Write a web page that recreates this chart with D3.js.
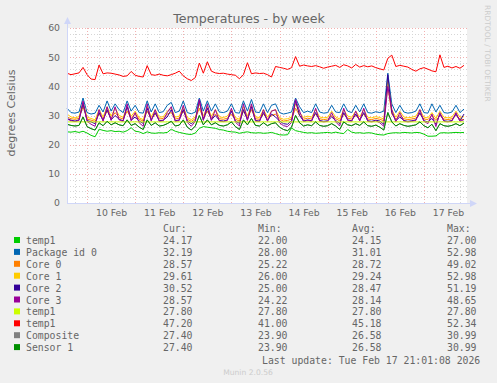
<html>
<head>
<meta charset="utf-8">
<title>Temperatures - by week</title>
<script src="https://d3js.org/d3.v7.min.js"></script>
<style>
  body { margin: 0; background: #f0f0f0; }
  text { font-family: "DejaVu Sans"; fill: #666666; }
  .mono { font-family: "DejaVu Sans Mono"; font-size: 9.8px; }
</style>
</head>
<body>
<svg id="grafico" width="497" height="383"></svg>
<script>
// series names / colours (munin order)
let names = ["temp1", "Package id 0", "Core 0", "Core 1", "Core 2", "Core 3", "temp1", "temp1", "Composite", "Sensor 1"];
let colors = ["#00CC00", "#0066B3", "#FF8000", "#FFCC00", "#330099", "#990099", "#CCFF00", "#FF0000", "#808080", "#008F00"];
let curVals = [24.17, 32.19, 28.57, 29.61, 30.52, 28.57, 27.80, 47.20, 27.40, 27.40];
let minVals = [22.00, 28.00, 25.22, 26.00, 25.00, 24.22, 27.80, 41.00, 23.90, 23.90];
let avgVals = [24.15, 31.01, 28.72, 29.24, 28.47, 28.14, 27.80, 45.18, 26.58, 26.58];
let maxVals = [27.00, 52.98, 49.02, 52.98, 51.19, 48.65, 27.80, 52.34, 30.99, 30.99];

let yTicks = [0, 10, 20, 30, 40, 50, 60];
let dayLabels = ["10 Feb", "11 Feb", "12 Feb", "13 Feb", "14 Feb", "15 Feb", "16 Feb", "17 Feb"];

// samples every 2h, from Feb 9 14:00 to Feb 17 20:00
let temp1 = [24.4,24.3,24.5,24.2,24.6,24.0,23.2,22.7,25.3,24.9,24.6,24.8,24.5,24.6,24.3,24.8,25.8,24.6,24.4,23.8,
  24.4,24.0,23.9,24.1,24.0,24.2,25.3,24.6,24.2,23.9,23.6,23.5,24.0,25.6,26.2,26.0,25.8,25.6,25.2,25.0,
  24.6,24.4,24.3,23.9,24.2,24.4,24.1,24.0,24.1,23.9,24.0,24.2,23.8,23.4,23.3,23.4,25.7,24.8,24.5,24.2,
  24.0,24.1,23.9,24.0,24.1,24.2,24.0,24.3,24.0,23.8,25.2,24.3,24.0,24.1,23.9,24.1,24.0,23.6,23.4,23.3,
  23.8,24.0,24.1,24.0,24.2,24.1,24.0,24.2,24.1,23.6,22.9,22.9,23.0,24.0,24.1,24.0,24.1,24.2,24.1,24.2];
let package0 = [32.5,31.0,30.8,31.2,36.0,31.0,30.5,30.8,33.5,31.2,35.0,31.5,34.0,32.0,31.0,35.0,31.5,33.5,31.0,30.8,
  35.0,31.2,34.0,31.0,31.3,33.5,34.5,31.0,31.5,35.0,31.0,30.6,31.2,36.0,31.5,35.0,31.5,34.0,31.2,31.0,
  31.5,34.0,31.0,30.8,35.0,31.5,35.5,31.2,31.0,34.0,31.0,33.5,34.0,31.0,30.5,30.8,31.2,36.0,33.0,31.0,
  31.5,31.0,34.0,31.2,30.8,31.0,33.5,31.2,31.0,34.0,31.5,31.0,33.5,31.2,34.0,31.0,30.8,31.3,31.0,31.5,
  44.5,34.0,31.0,33.5,31.2,30.8,31.0,31.5,34.0,31.0,30.8,34.0,31.2,33.5,31.0,30.8,31.2,33.5,31.0,32.2];
let core0 = [29.5,28.9,28.7,29.0,33.0,28.8,28.4,28.0,30.5,28.9,31.5,29.1,31.0,29.3,28.8,31.5,29.0,30.5,28.7,28.1,
  31.5,29.0,30.5,28.8,29.0,30.5,31.0,28.8,29.1,31.5,28.7,28.0,28.9,32.5,29.1,31.5,29.1,30.5,28.9,28.7,
  29.1,30.5,28.7,28.1,31.5,29.1,32.0,28.9,28.7,30.5,28.8,30.0,30.5,28.7,28.1,28.3,28.8,32.5,30.0,28.7,
  29.1,28.8,30.5,28.9,28.6,28.8,30.0,28.9,28.2,30.5,29.1,28.8,30.0,28.9,30.5,28.8,28.6,29.0,28.7,28.2,
  40.0,30.5,28.8,30.0,28.9,28.6,28.8,29.1,30.5,28.8,28.6,30.0,28.3,30.0,28.8,28.6,28.9,30.0,28.8,28.6];
let core1 = [30.5,29.5,29.2,29.6,34.5,29.4,29.0,28.5,32.0,29.5,33.0,29.8,32.5,30.0,29.4,33.0,29.7,31.5,29.2,28.6,
  33.0,29.6,32.0,29.4,29.6,31.5,32.5,29.4,29.8,33.0,29.3,28.6,29.5,34.0,29.8,33.0,29.8,32.0,29.5,29.3,
  29.8,32.0,29.3,28.7,33.0,29.8,33.5,29.5,29.3,32.0,29.4,31.5,32.0,29.3,28.7,28.9,29.4,34.0,31.0,29.3,
  29.8,29.4,32.0,29.5,29.2,29.4,31.5,29.5,28.8,32.0,29.8,29.4,31.5,29.5,32.0,29.4,29.2,29.6,29.3,28.8,
  42.0,32.0,29.4,31.5,29.5,29.2,29.4,29.8,32.0,29.4,29.2,31.0,29.0,31.5,29.4,29.2,29.5,31.5,29.4,29.6];
let core2 = [29.0,28.4,28.1,28.5,34.0,28.3,27.8,27.2,31.0,28.3,32.0,28.5,30.0,28.7,28.2,33.0,28.4,29.5,28.1,27.3,
  32.5,28.4,31.0,28.2,28.4,29.5,32.0,28.2,28.5,32.0,28.1,27.2,28.3,35.0,28.5,32.5,28.5,30.0,28.3,28.1,
  28.5,31.5,28.1,27.3,32.0,28.5,33.0,28.3,28.1,31.0,28.2,30.5,29.5,28.1,27.2,27.0,28.2,35.0,30.0,28.1,
  28.5,28.2,31.0,28.3,28.0,28.2,29.5,28.3,27.2,31.0,28.5,28.2,30.5,28.3,31.0,28.2,28.0,28.4,28.1,27.0,
  44.0,31.0,28.2,29.5,28.3,28.0,28.2,28.5,31.0,28.2,27.8,29.0,27.0,30.5,28.2,28.0,28.3,30.5,28.2,30.5];
let core3 = [28.8,28.2,27.9,28.3,35.0,28.0,27.0,26.3,32.0,28.0,33.0,28.3,33.0,28.5,28.0,34.0,28.2,31.0,27.5,26.3,
  34.0,28.1,32.0,28.0,28.2,31.0,33.0,28.0,28.3,33.5,27.6,26.3,28.0,35.5,28.3,34.0,28.3,32.0,28.1,27.9,
  28.3,32.5,27.7,26.4,34.0,28.3,34.0,28.1,27.9,32.0,28.0,31.5,32.0,27.5,26.5,26.2,27.6,35.5,31.5,27.9,
  28.3,28.0,32.5,28.1,27.8,28.0,31.0,27.8,26.4,32.5,28.3,28.0,31.5,28.1,32.5,28.0,27.8,28.2,27.5,26.3,
  40.0,32.0,27.8,31.0,28.1,27.8,28.0,28.3,32.0,28.0,27.2,30.5,26.2,31.0,28.0,27.8,28.1,31.0,28.0,28.6];
let temp1b = [27.8, 27.8];
let temp1c = [44.5,44.0,44.3,44.6,46.5,44.0,42.5,42.3,47.3,44.3,44.6,44.5,44.2,43.9,43.4,43.6,45.1,43.8,43.4,43.2,
  47.1,44.0,43.8,44.2,43.8,43.6,44.0,44.5,45.2,43.6,42.6,42.0,43.0,48.0,44.5,48.4,45.2,44.6,44.4,44.5,
  44.2,44.0,43.8,42.6,44.0,48.1,44.3,44.6,44.4,44.5,44.0,43.2,46.8,46.5,46.2,45.8,46.4,50.2,46.9,47.3,
  47.0,46.8,47.1,46.7,46.2,46.6,46.9,47.2,46.5,47.4,47.0,46.3,47.5,46.6,47.1,46.7,47.0,46.4,46.0,45.6,
  49.6,50.7,46.8,47.2,46.9,46.6,45.8,45.2,46.0,46.4,45.9,45.3,45.0,50.8,46.5,46.9,46.3,46.8,46.2,47.2];
let sensor1 = [27.0,26.6,26.4,26.6,29.5,26.2,25.5,25.0,27.5,26.5,28.0,26.8,27.5,26.8,26.5,28.5,26.6,27.2,26.0,25.2,
  28.5,26.6,27.5,26.4,26.6,27.2,28.0,26.4,26.7,28.5,26.0,25.0,26.4,30.0,26.8,28.5,26.8,27.5,26.6,26.4,
  26.8,27.8,26.2,25.2,28.5,26.8,29.0,26.6,26.4,27.5,26.5,27.2,27.5,26.0,25.2,24.8,26.0,30.0,27.5,26.4,
  26.8,26.5,27.8,26.6,26.3,26.5,27.2,26.4,25.2,27.8,26.8,26.5,27.2,26.6,27.8,26.5,26.3,26.7,26.0,25.0,
  31.0,27.8,26.4,27.2,26.6,26.3,26.5,26.8,27.8,26.5,25.8,27.0,24.8,27.2,26.5,26.3,26.6,27.2,26.5,27.4];
let composite = sensor1;

let series = [temp1, package0, core0, core1, core2, core3, temp1b, temp1c, composite, sensor1];

let pLeft = 67, pRight = 467, pTop = 28, pBottom = 203;
let tStart = new Date(2026, 1, 9, 14, 0);
let tLast = new Date(2026, 1, 17, 20, 0);
let tEnd = new Date(2026, 1, 17, 21, 30);

let svg = d3.select("#grafico");
let x = d3.scaleTime().domain([tStart, tEnd]).range([pLeft, pRight]);
let y = d3.scaleLinear().domain([0, 60]).range([pBottom, pTop]);

// canvas
svg.append("rect").attr("x", pLeft).attr("y", pTop).attr("width", pRight - pLeft).attr("height", pBottom - pTop).attr("fill", "#ffffff");

// grid
let g = svg.append("g").attr("shape-rendering", "crispEdges");
let yMinor = d3.range(2, 60, 2).filter(d => d % 10 != 0);
let xMinor = d3.timeHour.every(6).range(tStart, tEnd).filter(d => d.getHours() != 0);
let xMajor = d3.timeDay.range(tStart, tEnd);
let minorCol = "#d6d6d6", majorCol = "#f2b0b0";
g.selectAll(".ym").data(yMinor).enter().append("line")
  .attr("x1", pLeft).attr("x2", pRight).attr("y1", d => Math.round(y(d)) + 0.5).attr("y2", d => Math.round(y(d)) + 0.5)
  .attr("stroke", minorCol).attr("stroke-dasharray", "1,2");
g.selectAll(".xm").data(xMinor).enter().append("line")
  .attr("x1", d => Math.round(x(d)) + 0.5).attr("x2", d => Math.round(x(d)) + 0.5).attr("y1", pTop).attr("y2", pBottom)
  .attr("stroke", minorCol).attr("stroke-dasharray", "1,2");
g.selectAll(".yM").data(yTicks.slice(1)).enter().append("line")
  .attr("x1", pLeft).attr("x2", pRight).attr("y1", d => Math.round(y(d)) + 0.5).attr("y2", d => Math.round(y(d)) + 0.5)
  .attr("stroke", majorCol).attr("stroke-dasharray", "1,2");
g.selectAll(".xM").data(xMajor).enter().append("line")
  .attr("x1", d => Math.round(x(d)) + 0.5).attr("x2", d => Math.round(x(d)) + 0.5).attr("y1", pTop).attr("y2", pBottom)
  .attr("stroke", majorCol).attr("stroke-dasharray", "1,2");

// lines
let line = d3.line().x(d => x(d[0])).y(d => y(d[1]));
series.forEach(function(vals, k) {
  let n = vals.length;
  let pts = vals.map((v, i) => [new Date(+tStart + i * (tLast - tStart) / (n - 1)), v]);
  svg.append("path").attr("d", line(pts)).attr("fill", "none")
    .attr("stroke", colors[k]).attr("stroke-width", 1);
});

// axes (munin style, light blue with arrows)
let axisCol = "#cfd6f8";
svg.append("line").attr("x1", pLeft + 0.5).attr("x2", pLeft + 0.5).attr("y1", pBottom).attr("y2", pTop - 6)
  .attr("stroke", axisCol).attr("shape-rendering", "crispEdges");
svg.append("line").attr("x1", pLeft).attr("x2", pRight + 4).attr("y1", pBottom + 0.5).attr("y2", pBottom + 0.5)
  .attr("stroke", axisCol).attr("shape-rendering", "crispEdges");
svg.append("path").attr("d", `M${pLeft - 3},${pTop - 4} L${pLeft + 0.5},${pTop - 11} L${pLeft + 4},${pTop - 4} Z`).attr("fill", axisCol);
svg.append("path").attr("d", `M${pRight + 3},${pBottom - 3} L${pRight + 10},${pBottom + 0.5} L${pRight + 3},${pBottom + 4} Z`).attr("fill", axisCol);

// tick labels
let yAxis = d3.axisLeft(y).tickValues(yTicks).tickSize(0).tickPadding(7);
svg.append("g").attr("transform", `translate(${pLeft},0)`).call(yAxis)
  .call(s => s.select(".domain").remove())
  .selectAll("text").style("font-family", "DejaVu Sans").style("font-size", "9.3px").attr("fill", "#666666");

let noons = xMajor.map(d => d3.timeHour.offset(d, 12));
let xAxis = d3.axisBottom(x).tickValues(noons).tickSize(0).tickPadding(6).tickFormat((d, i) => dayLabels[i]);
svg.append("g").attr("transform", `translate(0,${pBottom})`).call(xAxis)
  .call(s => s.select(".domain").remove())
  .selectAll("text").style("font-family", "DejaVu Sans").style("font-size", "9.3px").attr("fill", "#666666");

// title and labels
svg.append("text").attr("x", 249).attr("y", 23).attr("text-anchor", "middle")
  .style("font-size", "12.6px").text("Temperatures - by week");
svg.append("text").attr("transform", "translate(15,113) rotate(-90)").attr("text-anchor", "middle")
  .style("font-size", "11px").text("degrees Celsius");
svg.append("text").attr("transform", "translate(485,5) rotate(90)")
  .style("font-size", "7.5px").style("fill", "#cccccc").text("RRDTOOL / TOBI OETIKER");

// legend
let cols = [163, 258, 352, 447];
["Cur:", "Min:", "Avg:", "Max:"].forEach(function(h, j) {
  svg.append("text").attr("class", "mono").attr("x", cols[j]).attr("y", 232).text(h);
});
names.forEach(function(nm, i) {
  let yy = 244 + i * 11.9;
  svg.append("rect").attr("x", 14).attr("y", yy - 7).attr("width", 6).attr("height", 6).attr("fill", colors[i]);
  svg.append("text").attr("class", "mono").attr("x", 26).attr("y", yy).text(nm);
  [curVals, minVals, avgVals, maxVals].forEach(function(arr, j) {
    svg.append("text").attr("class", "mono").attr("x", cols[j]).attr("y", yy).text(arr[i].toFixed(2));
  });
});
svg.append("text").attr("class", "mono").attr("x", 262).attr("y", 364).text("Last update: Tue Feb 17 21:01:08 2026");
svg.append("text").attr("x", 248).attr("y", 375).attr("text-anchor", "middle")
  .style("font-size", "7.6px").style("fill", "#cccccc").text("Munin 2.0.56");
</script>
</body>
</html>
